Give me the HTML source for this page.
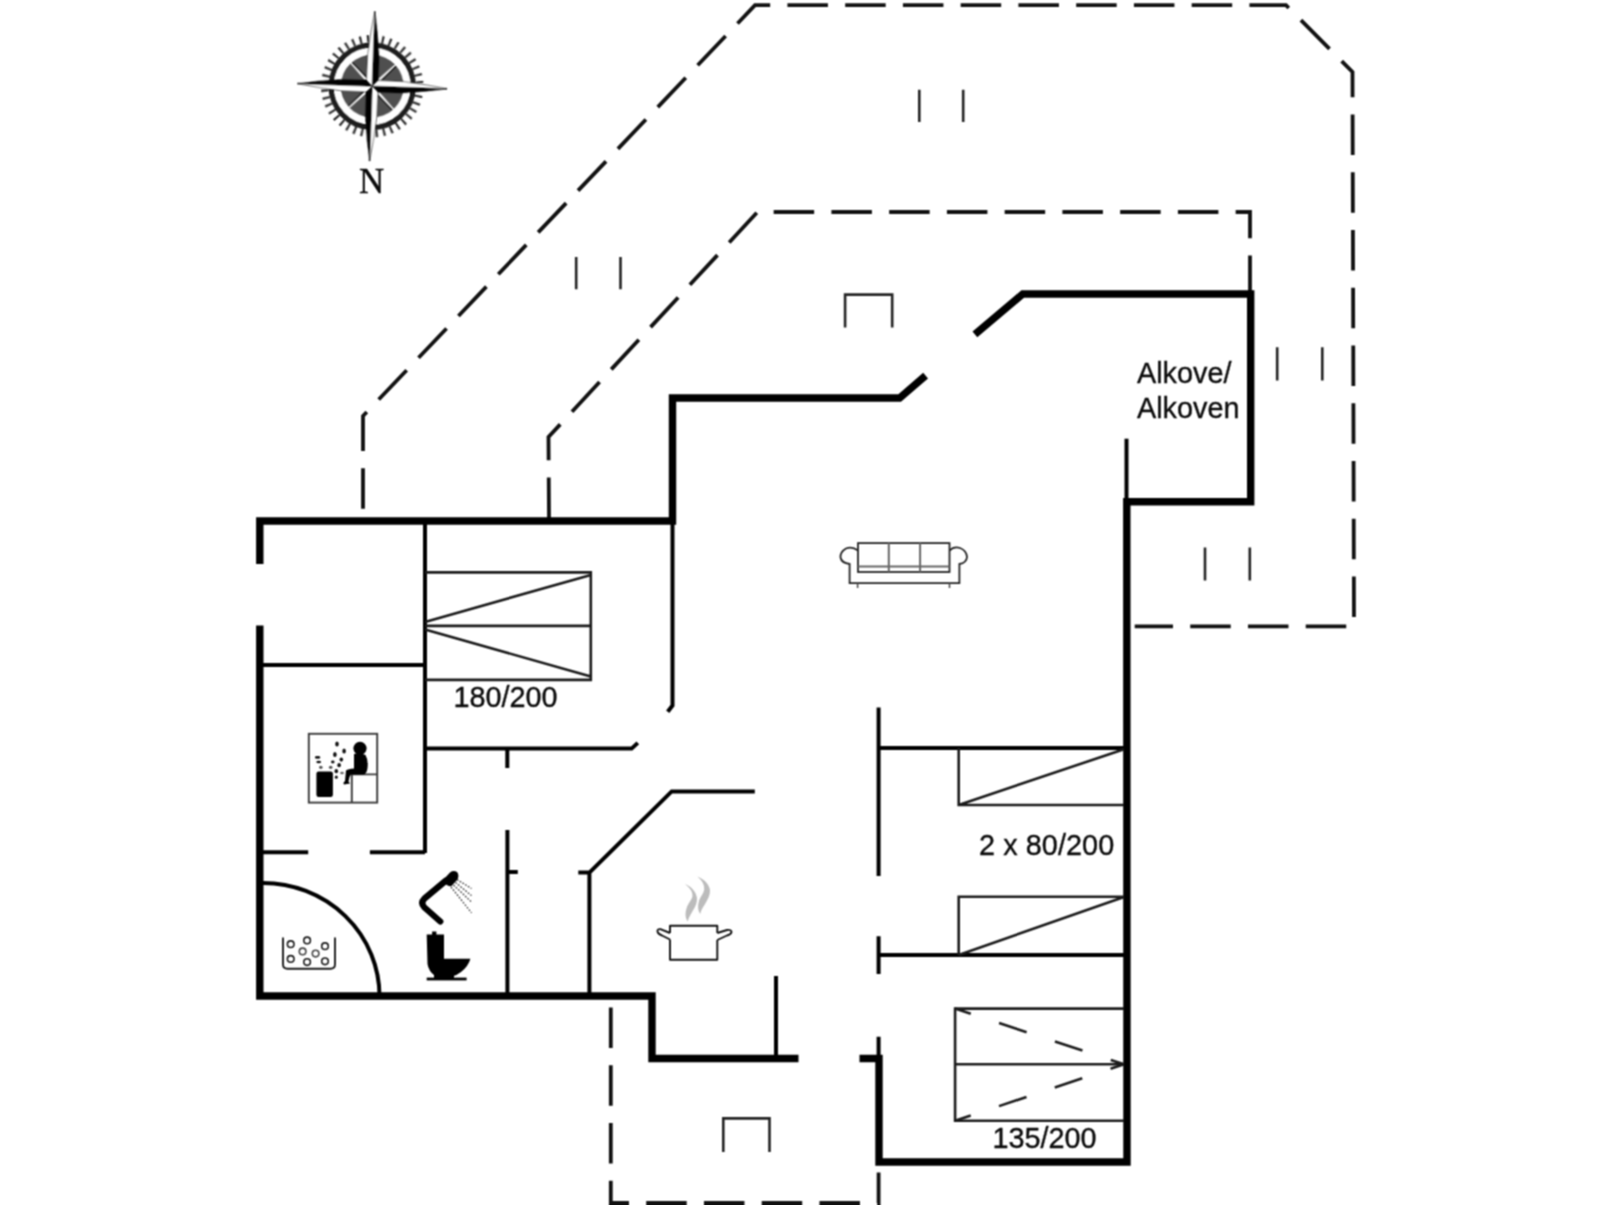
<!DOCTYPE html>
<html><head><meta charset="utf-8">
<style>
html,body{margin:0;padding:0;background:#fff;}
body{width:1606px;height:1205px;overflow:hidden;}
svg{display:block;}
text{font-family:"Liberation Sans",sans-serif;fill:#0a0a0a;stroke:#0a0a0a;stroke-width:0.35px;}
</style></head><body>
<svg width="1606" height="1205" viewBox="0 0 1606 1205">
<defs><filter id="gb" x="0" y="0" width="1606" height="1205" filterUnits="userSpaceOnUse" color-interpolation-filters="sRGB"><feConvolveMatrix order="3" kernelMatrix="1 2 1 2 4 2 1 2 1" divisor="16" edgeMode="duplicate"/></filter></defs>
<rect width="1606" height="1205" fill="#fff"/>
<g filter="url(#gb)">

<!-- dashed outlines -->
<g fill="none" stroke="#111" stroke-width="3.8" stroke-dasharray="40.5 17.25">
  <path id="outer" d="M363 510.5 L363 416 L755 5.2 L1286 5.2 L1352.5 72 L1354 626.4 L1134.7 626.4" stroke-dashoffset="56"/>
  <path id="inner" d="M549 518 L548.5 437 L757.5 212 L1250 212 L1250 294"/>
  <path id="bottom" d="M610.8 1007.4 L610.8 1203 L878.6 1203 L878.6 1172.4"/>
</g>

<!-- thick walls -->
<g fill="none" stroke="#000" stroke-width="7.4" stroke-linejoin="miter" stroke-linecap="butt">
  <path d="M259.8 563.9 L259.8 521 L672.5 521 L672.5 398 L899.6 398 L925.6 375.6"/>
  <path d="M259.8 625.6 L259.8 996 L652 996 L652 1058.5 L798.5 1058.5"/>
  <path d="M974.9 334.3 L1022.8 294 L1250.7 294 L1250.7 501.8 L1126.8 501.8 L1127 1162 L879 1162 L879 1058.5 L859.5 1058.5"/>
</g>

<!-- thin walls -->
<g fill="none" stroke="#000" stroke-width="4" stroke-linecap="butt">
  <path d="M425 521 L425 853"/>
  <path d="M259 665 L425 665"/>
  <path d="M259 852.3 L308.2 852.3 M369.9 852.3 L425 852.3"/>
  <path d="M425 748.6 L631.6 748.6 L637.8 742.9"/>
  <path d="M672.5 521 L672.5 705.5 L667.7 711.8"/>
  <path d="M507.3 748.6 L507.3 768"/>
  <path d="M507.4 830 L507.4 996 M507.4 872 L517.8 872"/>
  <path d="M578.3 872.6 L589.4 872.6 L589.4 996 M589.4 872.6 L671.7 791.4 L754.8 791.4"/>
  <path d="M776 976 L776 1058.5"/>
  <path d="M878.6 707.4 L878.6 875.9 M878.6 936.3 L878.6 974.1 M878.6 1036.8 L878.6 1058.5"/>
  <path d="M878.6 748.1 L1127 748.1 M878.6 955 L1127 955"/>
  <path d="M1126.5 438.7 L1126.5 501.8"/>
  <path d="M263 883 A116.5 113 0 0 1 379.5 996"/>
</g>

<!-- beds -->
<g fill="none" stroke="#1a1a1a" stroke-width="2.6">
  <path d="M425 572.4 L590.8 572.4 L590.8 679.9 L425 679.9 M425 625.9 L590.8 625.9 M425 622 L590.8 574.9 M425 629.6 L590.8 676.4"/>
  <path d="M958.7 748 L958.7 805 L1124 805 M958.7 805 L1124 749.2"/>
  <path d="M958.7 955 L958.7 896.8 L1124 896.8 M958.7 955 L1124 897"/>
  <path d="M1124 1008.6 L955.1 1008.6 L955.1 1120.8 L1124 1120.8 M955.1 1064.3 L1124 1064.3"/>
</g>
<g fill="none" stroke="#1a1a1a" stroke-width="2.6" stroke-dasharray="29 29.8" stroke-dashoffset="12.5">
  <path d="M955.1 1008.6 L1124 1064.3"/>
  <path d="M955.1 1120.8 L1124 1064.3"/>
</g>

<!-- windows -->
<g fill="none" stroke="#222" stroke-width="2.6">
  <path d="M919.3 89.8 L919.3 122 M963.2 89.8 L963.2 122"/>
  <path d="M576.2 256.9 L576.2 289.2 M620.5 256.9 L620.5 289.2"/>
  <path d="M1277.2 347.3 L1277.2 380.4 M1322.3 347.3 L1322.3 380.4"/>
  <path d="M1205 547.5 L1205 580.6 M1249.8 547.5 L1249.8 580.6"/>
  <path d="M845.1 327.5 L845.1 294.6 L892.2 294.6 L892.2 327.5"/>
  <path d="M723.3 1152 L723.3 1118.4 L769.5 1118.4 L769.5 1152"/>
</g>

<!-- compass -->
<defs><filter id="soft" x="-20%" y="-20%" width="140%" height="140%"><feGaussianBlur stdDeviation="0.7"/></filter></defs>
<g transform="translate(372.2 86.2) rotate(2)" filter="url(#soft)">
  <circle r="47.4" fill="none" stroke="#2a2a2a" stroke-width="7.6" stroke-dasharray="2.2 5.25"/>
  <circle r="41" fill="none" stroke="#1c1c1c" stroke-width="5.4"/>
  <circle r="34.9" fill="none" stroke="#fff" stroke-width="7"/>
  <circle r="31.5" fill="#505050"/>
  <!-- diagonal minor arms -->
  <g>
    <path d="M2 -1.3 L38 -0.3 L38 0.9 L2 1.3 Z" fill="#fff" transform="rotate(-45)"/>
    <path d="M2 -1.3 L38 -0.3 L38 0.9 L2 1.3 Z" fill="#fff" transform="rotate(45)"/>
    <path d="M2 -1.3 L38 -0.3 L38 0.9 L2 1.3 Z" fill="#fff" transform="rotate(135)"/>
    <path d="M2 -1.3 L38 -0.3 L38 0.9 L2 1.3 Z" fill="#fff" transform="rotate(-135)"/>
    <path d="M4 1.3 L31 0.9 L31 2.2 L4 3 Z" fill="#111" transform="rotate(-45)"/>
    <path d="M4 1.3 L31 0.9 L31 2.2 L4 3 Z" fill="#111" transform="rotate(45)"/>
    <path d="M4 1.3 L31 0.9 L31 2.2 L4 3 Z" fill="#111" transform="rotate(135)"/>
    <path d="M4 1.3 L31 0.9 L31 2.2 L4 3 Z" fill="#111" transform="rotate(-135)"/>
  </g>
  <!-- main arms -->
  <g stroke="#111" stroke-width="0.6" stroke-linejoin="round">
    <g id="arm">
      <path d="M0 0 L6 -6 L5.8 -30 L3 -55 L0 -75 Z" fill="#000"/>
      <path d="M0 0 L-6 -6 L-5.8 -30 L-3 -55 L0 -75 Z" fill="#fff"/>
    </g>
    <g transform="rotate(90)"><path d="M0 0 L6 -6 L5.8 -30 L3 -55 L0 -75 Z" fill="#000"/><path d="M0 0 L-6 -6 L-5.8 -30 L-3 -55 L0 -75 Z" fill="#fff"/></g>
    <g transform="rotate(180)"><path d="M0 0 L6 -6 L5.8 -30 L3 -55 L0 -75 Z" fill="#000"/><path d="M0 0 L-6 -6 L-5.8 -30 L-3 -55 L0 -75 Z" fill="#fff"/></g>
    <g transform="rotate(270)"><path d="M0 0 L6 -6 L5.8 -30 L3 -55 L0 -75 Z" fill="#000"/><path d="M0 0 L-6 -6 L-5.8 -30 L-3 -55 L0 -75 Z" fill="#fff"/></g>
  </g>
</g>
<text x="359" y="193" font-size="35" style="font-family:'Liberation Serif',serif" fill="#1a1a1a" stroke="#1a1a1a" stroke-width="0.5">N</text>

<!-- sauna icon -->
<g>
  <rect x="308.8" y="733.8" width="68.4" height="68.8" fill="none" stroke="#3a3a3a" stroke-width="1.9"/>
  <path d="M351.8 802.6 L351.8 774.4 L377.2 774.4" fill="none" stroke="#3a3a3a" stroke-width="1.9"/>
  <rect x="316.4" y="771.5" width="16.5" height="25.4" rx="2.2" fill="#000"/>
  <circle cx="360" cy="748.3" r="6.6" fill="#000"/>
  <path d="M354 754 Q360 752 365.5 755 Q368.5 760 367.5 768 Q367 773 364 774.5 L351 774.5 L349.5 777 L348.5 781.5 L350 783.5 L344 784.5 Q342.5 783 345 781 L346 770.5 Q348 769 354 768.5 Z" fill="#000"/>
  <g fill="#111">
    <ellipse cx="337" cy="744" rx="1.8" ry="2.5"/>
    <ellipse cx="344.1" cy="751.1" rx="1.8" ry="2.5"/>
    <ellipse cx="334.9" cy="754.6" rx="1.8" ry="2.5"/>
    <ellipse cx="341.3" cy="759.6" rx="1.8" ry="2.1"/>
    <ellipse cx="332.8" cy="762" rx="1.8" ry="1.4"/>
    <ellipse cx="339.1" cy="765.2" rx="1.8" ry="2.1"/>
    <ellipse cx="336.3" cy="771.2" rx="1.8" ry="2.1"/>
    <ellipse cx="342" cy="773" rx="1.8" ry="1.3" fill="#666"/>
    <ellipse cx="336.3" cy="777.2" rx="1.5" ry="1.6"/>
    <ellipse cx="317.6" cy="757.4" rx="2.8" ry="1.3"/>
    <ellipse cx="318.7" cy="762" rx="2.4" ry="1.3"/>
    <ellipse cx="320.8" cy="767.3" rx="1.8" ry="1.6" fill="#555"/>
    <ellipse cx="330.7" cy="767.3" rx="1.8" ry="1.6" fill="#555"/>
  </g>
</g>

<!-- bath basket -->
<g fill="none" stroke="#1a1a1a">
  <path d="M283 937.5 L283 964.3 Q283 968.8 287.5 968.8 L330.5 968.8 Q335 968.8 335 964.3 L335 937.5" stroke-width="1.9"/>
  <g stroke-width="1.6">
    <circle cx="290.7" cy="944.2" r="3.3"/>
    <circle cx="307.1" cy="940.4" r="3.3"/>
    <circle cx="325" cy="946.2" r="3.3"/>
    <circle cx="302.6" cy="951.4" r="3.3" stroke="#444"/>
    <circle cx="315.6" cy="953.6" r="3.3" stroke="#444"/>
    <circle cx="290.7" cy="958.9" r="3.3"/>
    <circle cx="307.1" cy="962.1" r="3.3"/>
    <circle cx="325" cy="961.3" r="3.3"/>
  </g>
</g>

<!-- shower -->
<g>
  <path d="M440.3 921.5 L424.5 907.5 Q420 903 424.5 898.5 L446 880.5" fill="none" stroke="#000" stroke-width="6.2" stroke-linecap="round" stroke-linejoin="round"/>
  <path d="M443 880 L450 872.5 Q453.5 869.8 457 872 Q459.5 875 457.5 879.5 L451.5 886 Q447 887.5 443 880 Z" fill="#000"/>
  <g stroke="#3a3a3a" stroke-width="1.3" stroke-dasharray="1.7 1.5" fill="none">
    <path d="M457 879.5 L471.5 888.5"/>
    <path d="M455.5 882.5 L471.5 895.6"/>
    <path d="M453.5 885 L471.5 902"/>
    <path d="M451 887 L471.5 912.8"/>
  </g>
</g>

<!-- toilet -->
<g fill="#000">
  <rect x="432.1" y="931.5" width="4.3" height="3.5"/>
  <path d="M426.7 934.4 L444 934.4 L444 958.7 L470.4 958.7 Q468.5 966 461 972 Q457 975 453.5 976 L435 976 Q428.5 971 427.5 964 Z"/>
  <rect x="434" y="975" width="20" height="3"/>
  <rect x="426.7" y="977.6" width="39.9" height="2.8"/>
</g>

<!-- sofa -->
<g fill="none" stroke-width="1.8">
  <rect x="858" y="543.1" width="91.5" height="28.9" stroke="#222"/>
  <path d="M858 566.4 L949.5 566.4 M888.8 543.1 L888.8 572 M920.1 543.1 L920.1 572" stroke="#666" stroke-width="2"/>
  <path d="M858 550.5 Q852 546 846 548.5 Q840 552 840.5 557.5 Q841.5 563 849.6 564 L849.6 583.2 L959.4 583.2 L959.4 564 Q966.5 563 967 557 Q966.5 550.5 960 548 Q954 546 949.5 550.5" stroke="#222"/>
  <path d="M857.6 583.2 L857.6 588 M949.5 583.2 L949.5 588" stroke="#444" stroke-width="1.5"/>
</g>

<!-- pot -->
<g fill="none" stroke="#111" stroke-width="1.9" stroke-linejoin="round">
  <path d="M670 933 L670 925.8 L717.3 925.8 L717.3 933 M670 939.5 L670 959.7 L717.3 959.7 L717.3 940"/>
  <path d="M670 933 L661 929.3 Q657 928.5 657.5 931.5 Q658 934 662 935.5 L670 939.5"/>
  <path d="M717.3 933 L727 930 Q731.5 929.5 731.5 932 Q731 934.5 727 935.5 L717.3 940"/>
</g>
<g fill="#bcbcbc">
  <path d="M684.9 884.1 C691 886.5 695.5 891 696.9 897.4 C697.5 902 695.5 906 693.5 909.5 C691 914 688.5 917.5 687.8 921.5 C685.2 918 685 913 686.5 908.5 C688 903.5 691.8 900 692.4 896.6 C693 892 690 888 684.9 884.1 Z"/>
  <path d="M697.3 876.6 C703.5 879 708.5 883.5 709.8 889.1 C710.5 894 708.5 898 706.5 901.5 C704 906 701 909.5 700.2 914 C697.8 910.5 697.5 905.5 699 901 C700.5 896.5 703.8 893 704.2 889.5 C704.5 884.5 702 880.5 697.3 876.6 Z"/>
</g>

<!-- labels -->
<text x="453.5" y="706.5" font-size="28.8">180/200</text>
<text x="979" y="855.4" font-size="28.8" letter-spacing="0.08">2 x 80/200</text>
<text x="992.5" y="1147.6" font-size="28.8">135/200</text>
<text x="1137" y="383.4" font-size="28.8">Alkove/</text>
<text x="1137" y="418.2" font-size="28.8">Alkoven</text>

</g>
</svg>
</body></html>
